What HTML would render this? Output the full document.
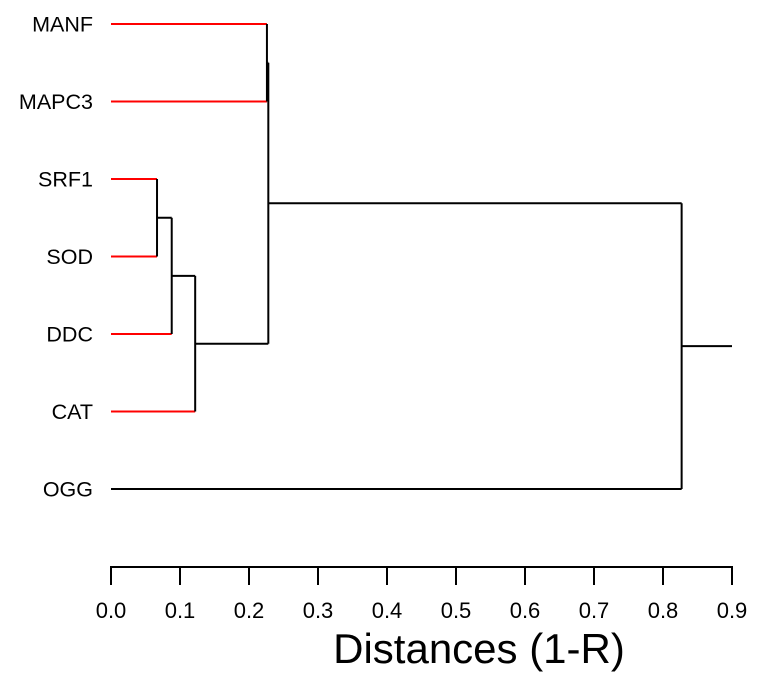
<!DOCTYPE html>
<html><head><meta charset="utf-8"><style>
body{margin:0;background:#fff;}
svg{display:block;font-family:"Liberation Sans",Arial,sans-serif;}
</style></head><body>
<svg id="chart" width="763" height="683" viewBox="0 0 763 683"></svg>
<script>
const leaves = ["MANF","MAPC3","SRF1","SOD","DDC","CAT","OGG"];
const merges = [[2,3],[7,4],[8,5],[0,1],[10,9],[11,6]];
const mergeHeights = [0.0667,0.088,0.122,0.226,0.228,0.827];
const rootStub = 0.9;
const redLeaves = ["MANF","MAPC3","SRF1","SOD","DDC","CAT"];
const ticks = [0,0.1,0.2,0.3,0.4,0.5,0.6,0.7,0.8,0.9];
const tickLabels = ["0.0","0.1","0.2","0.3","0.4","0.5","0.6","0.7","0.8","0.9"];

const svg = document.getElementById('chart');
const NS = 'http://www.w3.org/2000/svg';
const x = v => 111 + v * 690;
const yLeaf = i => 24 + i * 77.5;
function mk(tag, attrs, name){
  const e = document.createElementNS(NS, tag);
  for (const k in attrs) e.setAttribute(k, attrs[k]);
  
  
  svg.appendChild(e); return e;
}
function line(x1,y1,x2,y2,c,name){ mk('line',{x1,y1,x2,y2,stroke:c,'stroke-width':2},name); }

const nodes = leaves.map((l,i)=>({h:0,y:yLeaf(i),leaf:true,name:l}));
merges.forEach((m,k)=>{
  const h = mergeHeights[k];
  const a = nodes[m[0]], b = nodes[m[1]];
  [a,b].forEach((n,j)=>{
    const red = n.leaf && redLeaves.includes(n.name);
    line(x(n.h), n.y, x(h), n.y, red ? '#ff0000' : '#000', n.leaf ? 'leaf-branch-'+n.name.toLowerCase() : 'branch-'+k+'-'+j);
  });
  line(x(h), a.y, x(h), b.y, '#000', 'merge-link-'+k);
  nodes.push({h:h, y:(a.y+b.y)/2, leaf:false});
});
const root = nodes[nodes.length-1];
line(x(root.h), root.y, x(rootStub), root.y, '#000', 'root-stub');

leaves.forEach((l,i)=>{
  const t = mk('text',{x:93,y:yLeaf(i)+7.5,'text-anchor':'end','font-size':21.5,fill:'#000'},'leaf-label-'+l.toLowerCase());
  t.textContent = l;
});

line(x(0),567,x(0.9),567,'#000','x-axis-line');
ticks.forEach((v,i)=>{
  line(x(v),566,x(v),585,'#000','x-tick-'+i);
  const t = mk('text',{x:x(v),y:618,'text-anchor':'middle','font-size':22,fill:'#000'},'x-tick-label-'+i);
  t.textContent = tickLabels[i];
});
const title = mk('text',{x:479,y:663,'text-anchor':'middle','font-size':42,fill:'#000'},'x-axis-title');
title.textContent = 'Distances (1-R)';
</script>
</body></html>
